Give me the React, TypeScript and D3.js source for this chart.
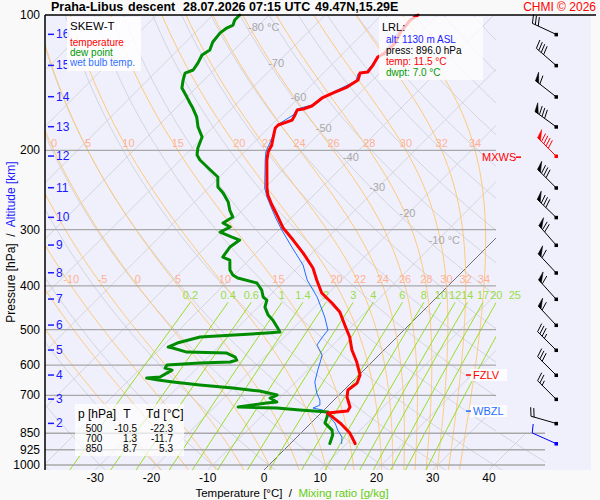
import * as d3 from 'd3'

const pressureTicks = [100, 200, 300, 400, 500, 600, 700, 850, 925, 1000]
const tempTicks = [-30, -20, -10, 0, 10, 20, 30, 40]

const altitudeKm = [16, 15, 14, 13, 12, 11, 10, 9, 8, 7, 6, 5, 4, 3, 2]
const altitudeP = [110.4, 129.4, 151.9, 177.1, 205.8, 242.0, 281.6, 324.5, 373.9, 427.8, 488.7, 555.3, 631.1, 713.8, 808.2]

// [pressure hPa, temperature °C]
const temperature: [number, number][] = [
  [100, -53.5], [102.6, -54.0], [109.6, -53.5], [115.4, -52.6], [121.5, -52.6], [124.0, -53.2],
  [129.2, -52.6], [133.9, -52.3], [134.6, -53.5], [139.5, -52.6], [144.6, -53.3], [149.1, -54.8],
  [152.9, -55.8], [159.3, -56.2], [161.8, -57.2], [162.6, -58.1], [166.8, -57.6], [171.2, -57.2],
  [175.6, -58.8], [178.3, -58.8], [187.7, -57.4], [194.5, -56.4], [201.6, -55.8], [210.0, -54.6],
  [242.4, -49.6], [251.2, -48.2], [264.4, -45.7], [278.3, -43.0], [297.5, -39.6], [316.3, -35.7],
  [338.1, -31.6], [365.0, -27.2], [388.1, -24.4], [414.8, -21.2], [436.6, -17.6], [457.2, -14.6],
  [488.7, -11.4], [519.6, -8.4], [555.3, -5.7], [590.5, -2.7], [631.1, 0.2], [657.6, 1.1],
  [681.5, 0.7], [706.4, 1.8], [743.4, 4.1], [758.8, 4.4], [762.7, 2.7], [766.6, 1.2],
  [806.9, 5.2], [849.2, 8.7], [896.0, 11.5],
]

const dewPoint: [number, number][] = [
  [100, -85.2], [102.6, -85.2], [105.3, -84.6], [106.9, -85.2], [109.6, -85.5], [114.8, -85.2],
  [119.6, -84.3], [122.7, -84.8], [127.9, -84.1], [132.5, -83.7], [134.6, -84.6], [139.5, -83.7],
  [145.3, -82.5], [152.2, -80.0], [156.9, -78.4], [161.0, -77.0], [168.6, -74.7], [177.4, -72.7],
  [186.7, -70.2], [197.5, -69.0], [204.7, -67.9], [210.0, -66.5], [218.8, -63.6], [229.1, -60.3],
  [241.2, -58.5], [248.7, -56.5], [260.4, -54.0], [271.3, -52.3], [281.2, -50.5], [289.9, -51.2],
  [295.9, -49.2], [303.6, -50.1], [311.5, -47.1], [316.3, -45.2], [327.8, -45.7], [345.0, -45.2],
  [350.4, -43.4], [368.8, -41.6], [378.3, -40.2], [384.2, -38.8], [394.1, -34.5], [408.5, -32.4],
  [423.4, -30.9], [430.0, -29.7], [445.7, -28.8], [464.3, -26.8], [476.3, -25.1], [496.2, -22.8],
  [506.5, -21.7], [509.1, -23.8], [519.6, -35.0], [535.8, -38.0], [546.9, -38.9], [549.7, -37.9],
  [561.1, -34.7], [564.0, -27.4], [575.6, -25.2], [584.5, -24.4], [590.5, -25.2], [593.6, -30.4],
  [599.7, -35.9], [609.0, -35.7], [615.3, -34.1], [624.8, -34.5], [637.7, -35.0], [641.0, -37.2],
  [647.6, -34.8], [654.2, -31.8], [664.3, -26.5], [674.6, -20.1], [685.0, -14.8], [699.1, -11.0],
  [710.0, -11.7], [724.7, -9.8], [728.4, -11.4], [743.4, -15.8], [747.3, -8.7], [755.0, -4.3],
  [762.7, 1.1], [782.6, 1.8], [806.9, 2.5], [836.3, 5.0], [858.0, 6.0], [896.0, 7.0],
]

const wetBulb: [number, number][] = [
  [100, -54.0], [109.6, -53.9], [121.5, -52.8], [125.9, -53.0], [129.8, -52.8], [133.9, -52.6],
  [135.2, -53.7], [140.2, -52.8], [148.3, -54.9], [158.5, -56.4], [161.8, -58.3], [166.8, -57.9],
  [175.6, -59.0], [187.7, -57.6], [201.6, -56.2], [210.0, -54.9], [242.4, -50.0], [253.8, -48.0],
  [267.1, -45.5], [282.6, -42.7], [300.5, -39.5], [327.8, -34.7], [359.4, -29.5], [388.1, -26.1],
  [423.4, -21.3], [469.0, -16.4], [501.4, -13.5], [522.3, -13.2], [541.3, -12.8], [569.7, -10.1],
  [590.5, -9.2], [615.3, -8.2], [654.2, -6.6], [692.0, -4.3], [717.3, -2.5], [735.9, -1.6],
  [747.3, -2.3], [755.0, -0.2], [774.6, 1.6], [806.9, 4.3], [836.3, 6.0], [866.8, 8.0], [896.0, 9.1],
]

const isothermLabels = [-80, -70, -60, -50, -40, -30, -20, -10]
const isothermLabelP = [106.3, 127.9, 152.2, 178.3, 206.9, 241.2, 275.4, 316.3]
const moistAdiabats = [-20, -15, -10, -5, 0, 5, 10, 15, 20, 22, 24, 26, 28, 30, 32, 34]
const moistLabels200 = [0, 5, 10, 15, 20, 22, 24, 26, 28, 30, 32, 34]
const moistLabels400 = [-10, -5, 0, 5, 10, 15, 20, 22, 24, 26, 28, 30, 32, 34]
const mixingRatios = [0.2, 0.4, 0.6, 1, 1.4, 2, 3, 4, 6, 8, 10, 12, 14, 17, 20, 25]

const windP = [...altitudeP, 896]
const windDir = [295, 311, 308, 306, 315, 315, 314, 319, 317, 318, 317, 315, 315, 315, 286, 294]
const windKt = [30, 40, 60, 80, 90, 80, 80, 70, 60, 60, 60, 35, 30, 25, 20, 10]

const levelMarks = [
  { name: 'MXWS', p: 207, color: '#ff0000' },
  { name: 'FZLV', p: 631, color: '#ff0000' },
  { name: 'WBZL', p: 759, color: '#1f6fff' },
]

const lrlLines = ['alt: 1130 m ASL', 'press: 896.0 hPa', 'temp: 11.5 °C', 'dwpt: 7.0 °C']
const lrlColors = ['#1a1aff', '#000000', '#ff0000', '#009900']

const tableLevels = ['500', '700', '850']
const tableT = ['-10.5', '1.3', '8.7']
const tableTd = ['-22.3', '-11.7', '5.3']

// ---- geometry ----
const left = 45, top = 15, right = 496, bottom = 470
const yScale = d3.scaleLog().domain([100, 1000]).range([15, 465])
const tScale = d3.scaleLinear().domain([0, 40]).range([264, 489])
const pBottom = yScale.invert(bottom)
const skewX = (t: number, p: number) => tScale(t) + (bottom - yScale(p))

const profileLine = d3.line<[number, number]>()
  .x(d => skewX(d[1], d[0]))
  .y(d => yScale(d[0]))

const gridLine = d3.line<[number, number]>()
  .x(d => skewX(d[1], d[0]))
  .y(d => yScale(d[0]))

function satVap(tc: number) {
  return 6.112 * Math.exp((17.67 * tc) / (tc + 243.5))
}

function moistAdiabat(thetaW: number): [number, number][] {
  const Rd = 287.04, cp = 1005.7, Lv = 2.501e6, eps = 0.622
  const slope = (p: number, T: number) => {
    const es = satVap(T - 273.15)
    const rs = (eps * es) / (p - es)
    return ((Rd * T + Lv * rs) / (cp + (Lv * Lv * rs * eps) / (Rd * T * T))) / p
  }
  let T = thetaW + 273.15
  let p = 1000
  while (p < pBottom) { T += slope(p, T); p += 1 }
  const pts: [number, number][] = [[p, T - 273.15]]
  while (p > 100) {
    T -= slope(p, T)
    p -= 1
    if (Math.round(p) % 5 === 0) pts.push([p, T - 273.15])
  }
  return pts
}

function mixingTd(w: number, p: number) {
  const e = (w * p) / (622 + w)
  const l = Math.log(e / 6.112)
  return (243.5 * l) / (17.67 - l)
}

function nearestT(pts: [number, number][], p: number) {
  return pts.reduce((a, b) => (Math.abs(b[0] - p) < Math.abs(a[0] - p) ? b : a))[1]
}

function barb(x: number, y: number, dir: number, spd: number) {
  const r = (dir * Math.PI) / 180
  const ux = Math.sin(r), uy = -Math.cos(r)
  const L = 26
  const tx = x + ux * L, ty = y + uy * L
  const a = (72 * Math.PI) / 180
  const bx = ux * Math.cos(a) - uy * Math.sin(a)
  const by = ux * Math.sin(a) + uy * Math.cos(a)
  let lines = `M${x},${y}L${tx},${ty}`
  let fill = ''
  let rem = Math.round(spd / 5) * 5
  let pos = 0
  while (rem >= 50) {
    const p0x = tx - ux * pos, p0y = ty - uy * pos
    const p1x = tx - ux * (pos + 4), p1y = ty - uy * (pos + 4)
    fill += `M${p0x},${p0y}L${p0x + bx * 9},${p0y + by * 9}L${p1x},${p1y}Z`
    pos += 5.5
    rem -= 50
  }
  while (rem >= 10) {
    const px = tx - ux * pos, py = ty - uy * pos
    lines += `M${px},${py}L${px + bx * 9},${py + by * 9}`
    pos += 3.2
    rem -= 10
  }
  if (rem >= 5) {
    if (pos === 0) pos = 3.2
    const px = tx - ux * pos, py = ty - uy * pos
    lines += `M${px},${py}L${px + bx * 5},${py + by * 5}`
  }
  return { lines, fill }
}

const FONT = 'Liberation Sans, Arial, Helvetica, sans-serif'

export default function App() {
  const isotherms = d3.range(-130, 50, 10)
  const dryAdiabats = d3.range(-40, 210, 10)
  const dryPs = d3.range(100, 1031, 10)
  const mixPs = d3.range(435, 1031, 50).concat([1030])
  const barbX = 556

  return (
    <div style={{ position: 'fixed', left: 0, top: 0 }}>
      <svg width={600} height={500} style={{ display: 'block', fontFamily: FONT }}>
        <defs>
          <clipPath id="plotClip">
            <rect x={left} y={top} width={right - left} height={bottom - top} />
            <rect x={right} y={yScale(850)} width={49} height={bottom - yScale(850)} />
          </clipPath>
        </defs>
        <rect x={0} y={0} width={600} height={500} fill="#f9f9f9" />
        <rect x={left} y={top} width={546} height={bottom - top} fill="#f0f0fc" />

        <g clipPath="url(#plotClip)" fill="none">
          {dryAdiabats.map(th => (
            <path key={'da' + th} stroke="#d4d4dc" strokeWidth={1}
              d={gridLine(dryPs.map(p => [p, (th + 273.15) * Math.pow(p / 1000, 0.286) - 273.15] as [number, number])) || ''} />
          ))}
          {isotherms.map(t => (
            <path key={'it' + t} stroke={t === 0 ? '#707070' : '#d4d4dc'} strokeWidth={1}
              d={gridLine([[pBottom, t], [100, t]]) || ''} />
          ))}
          {moistAdiabats.map(tw => (
            <path key={'ma' + tw} stroke="#ffc878" strokeWidth={1} d={gridLine(moistAdiabat(tw)) || ''} />
          ))}
          {mixingRatios.map(w => (
            <path key={'mr' + w} stroke="#99dd22" strokeWidth={1}
              d={gridLine(mixPs.map(p => [p, mixingTd(w, p)] as [number, number])) || ''} />
          ))}
        </g>

        {/* isobars */}
        {pressureTicks.slice(1).map(p => (
          <line key={'ib' + p} x1={left} x2={p >= 850 ? 545 : right} y1={yScale(p)} y2={yScale(p)}
            stroke="#a8a8a8" strokeWidth={1.3} />
        ))}

        {/* background labels */}
        <g fontSize={11} dominantBaseline="central">
          {isothermLabels.map((t, i) => (
            <text key={'il' + t} x={skewX(t, isothermLabelP[i]) - 9} y={yScale(isothermLabelP[i])} fill="#a8a8a8">
              {t === -80 || t === -10 ? `${t} °C` : t}
            </text>
          ))}
          {moistLabels200.map(tw => (
            <text key={'m2' + tw} x={skewX(nearestT(moistAdiabat(tw), 200), 200)} y={yScale(200) - 7}
              textAnchor="middle" fill="#ffb094">{tw}</text>
          ))}
          {moistLabels400.map(tw => (
            <text key={'m4' + tw} x={skewX(nearestT(moistAdiabat(tw), 400), 400)} y={yScale(400) - 7}
              textAnchor="middle" fill="#ffb094">{tw}</text>
          ))}
          {mixingRatios.map(w => (
            <text key={'ml' + w} x={skewX(mixingTd(w, 435), 435)} y={yScale(435) - 7}
              textAnchor="middle" fill="#99dd44">{w}</text>
          ))}
        </g>

        {/* profiles */}
        <g fill="none" strokeLinejoin="round" strokeLinecap="round">
          <path d={profileLine(wetBulb) || ''} stroke="#1f6fff" strokeWidth={1} />
          <path d={profileLine(dewPoint) || ''} stroke="#008c00" strokeWidth={3} />
          <path d={profileLine(temperature) || ''} stroke="#ff0000" strokeWidth={3} />
        </g>

        {/* frame */}
        <line x1={left} x2={596} y1={top} y2={top} stroke="#000" strokeWidth={1.5} />
        <line x1={left} x2={left} y1={top} y2={bottom} stroke="#000" strokeWidth={1.5} />

        {/* pressure axis */}
        <g fontSize={12} fill="#000" dominantBaseline="central">
          {pressureTicks.map(p => (
            <text key={'pl' + p} x={40} y={yScale(p)} textAnchor="end">{p}</text>
          ))}
        </g>
        {/* altitude ticks */}
        <g fontSize={12} fill="#1a1aff" dominantBaseline="central">
          {altitudeKm.map((km, i) => (
            <g key={'al' + km}>
              <line x1={48} x2={54} y1={yScale(altitudeP[i])} y2={yScale(altitudeP[i])} stroke="#1a1aff" strokeWidth={1.5} />
              <text x={56} y={yScale(altitudeP[i])}>{km}</text>
            </g>
          ))}
        </g>
        <text transform="translate(11,242) rotate(-90)" textAnchor="middle" dominantBaseline="central"
          fontSize={12} style={{ whiteSpace: 'pre' }}>
          <tspan fill="#000">{'Pressure [hPa]  /  '}</tspan>
          <tspan fill="#1a1aff">Altitude [km]</tspan>
        </text>

        {/* temperature axis */}
        <g fontSize={12} fill="#000" dominantBaseline="central">
          {tempTicks.map(t => (
            <text key={'tl' + t} x={tScale(t)} y={478} textAnchor="middle">{t}</text>
          ))}
        </g>
        <text x={292} y={493} textAnchor="middle" dominantBaseline="central" fontSize={11.5} style={{ whiteSpace: 'pre' }}>
          <tspan fill="#000">{'Temperature [°C]  /  '}</tspan>
          <tspan fill="#66cc11">Mixing ratio [g/kg]</tspan>
        </text>

        {/* wind barbs */}
        {windP.map((p, i) => {
          const y = yScale(p)
          const color = i === 4 ? '#ff0000' : i === windP.length - 1 ? '#0000ff' : '#000000'
          const b = barb(barbX, y, windDir[i], windKt[i])
          return (
            <g key={'wb' + i}>
              <path d={b.lines} stroke={color} strokeWidth={1} fill="none" />
              {b.fill && <path d={b.fill} fill={color} stroke={color} strokeWidth={0.6} />}
              <rect x={barbX - 1.5} y={y - 1.5} width={3.5} height={3.5} fill={color} />
            </g>
          )
        })}

        {/* level markers */}
        {levelMarks.map(m => {
          const y = yScale(m.p)
          if (m.name === 'MXWS') {
            return (
              <g key={m.name}>
                <text x={482} y={y} dominantBaseline="central" fontSize={11} fill={m.color}>{m.name}</text>
                <line x1={516} x2={521} y1={y} y2={y} stroke={m.color} strokeWidth={1.5} />
              </g>
            )
          }
          return (
            <g key={m.name}>
              <rect x={470} y={y - 6} width={37} height={12} fill="#ffffff" opacity={0.85} />
              <line x1={466} x2={471} y1={y} y2={y} stroke={m.color} strokeWidth={1.5} />
              <text x={473} y={y} dominantBaseline="central" fontSize={11} fill={m.color}>{m.name}</text>
            </g>
          )
        })}

        {/* legend */}
        <rect x={67} y={17} width={74} height={54} fill="#ffffff" opacity={0.85} />
        <g fontSize={10} dominantBaseline="central">
          <text x={70} y={26} fontSize={11.5} fill="#000">SKEW-T</text>
          <text x={70} y={42} fill="#ff0000">temperature</text>
          <text x={70} y={52} fill="#009900">dew point</text>
          <text x={70} y={62} fill="#3070ff">wet bulb temp.</text>
        </g>

        {/* LRL box */}
        <rect x={379} y={17} width={104} height={63} fill="#ffffff" opacity={0.75} />
        <g dominantBaseline="central">
          <text x={382} y={27} fontSize={11} fill="#000">LRL:</text>
          {lrlLines.map((s, i) => (
            <text key={'lrl' + i} x={386} y={39.5 + i * 11} fontSize={10} fill={lrlColors[i]}>{s}</text>
          ))}
        </g>

        {/* table */}
        <rect x={75} y={404} width={109} height={52} fill="#ffffff" opacity={0.7} />
        <g fontSize={12} fill="#000" dominantBaseline="central">
          <text x={78} y={414}>p [hPa]</text>
          <text x={127} y={414} textAnchor="middle">T</text>
          <text x={146} y={414}>Td [°C]</text>
        </g>
        <g fontSize={10} fill="#000" dominantBaseline="central">
          {tableLevels.map((lv, i) => (
            <g key={'tr' + lv}>
              <text x={94} y={428 + i * 10.3} textAnchor="middle">{lv}</text>
              <text x={137} y={428 + i * 10.3} textAnchor="end">{tableT[i]}</text>
              <text x={173} y={428 + i * 10.3} textAnchor="end">{tableTd[i]}</text>
            </g>
          ))}
        </g>

        {/* title */}
        <g fontSize={12.5} fontWeight="bold" fill="#000" dominantBaseline="central">
          <text x={51} y={7}>Praha-Libus</text>
          <text x={128} y={7}>descent</text>
          <text x={183} y={7}>28.07.2026 07:15 UTC</text>
          <text x={315} y={7}>49.47N,15.29E</text>
        </g>
        <text x={596} y={7} textAnchor="end" dominantBaseline="central" fontSize={12} fill="#ff0000">CHMI © 2026</text>
      </svg>
    </div>
  )
}
